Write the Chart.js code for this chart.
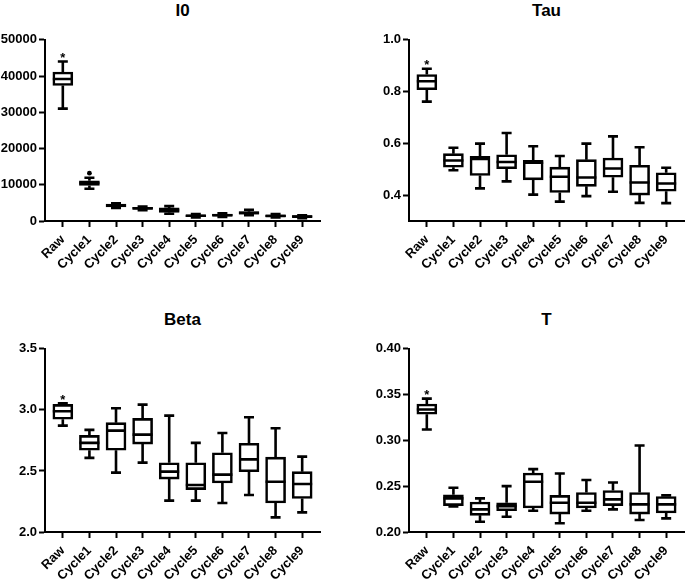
<!DOCTYPE html>
<html>
<head>
<meta charset="utf-8">
<script src="https://cdn.jsdelivr.net/npm/chart.js@4"></script>
<style>
  html, body { margin: 0; padding: 0; background: #fff; overflow: hidden; }
  body { width: 685px; height: 584px; position: relative; font-family: "Liberation Sans", Arial, sans-serif; }
  .title { position: absolute; font-weight: bold; font-size: 17px; line-height: 17px; text-align: center; color: #000; }
  canvas { position: absolute; }
</style>
</head>
<body>
<div class="title" style="left:45px;top:2px;width:275px">I0</div>
<div class="title" style="left:409px;top:2px;width:275px">Tau</div>
<div class="title" style="left:45px;top:311px;width:275px">Beta</div>
<div class="title" style="left:409px;top:311px;width:275px">T</div>
<canvas id="cI0" width="330" height="243" style="left:0;top:30px"></canvas>
<canvas id="cTau" width="321" height="243" style="left:364px;top:30px"></canvas>
<canvas id="cBeta" width="330" height="245" style="left:0;top:339px"></canvas>
<canvas id="cT" width="321" height="245" style="left:364px;top:339px"></canvas>
<script>
const groups = ["Raw", "Cycle1", "Cycle2", "Cycle3", "Cycle4", "Cycle5", "Cycle6", "Cycle7", "Cycle8", "Cycle9"];

// I0
const i0Min = [31000, 8900, 3600, 3000, 2000, 1000, 1100, 1600, 1000, 800];
const i0Q1  = [37400, 9800, 3900, 3200, 2400, 1200, 1300, 1900, 1200, 1000];
const i0Med = [39200, 10500, 4300, 3500, 3000, 1450, 1600, 2200, 1400, 1200];
const i0Q3  = [41100, 11100, 4700, 3800, 3600, 1700, 1900, 2600, 1700, 1500];
const i0Max = [44000, 11950, 4900, 4000, 4100, 1900, 2100, 3100, 1900, 1600];
const i0Dots = [[1, 13200]];
const i0Ticks = [0, 10000, 20000, 30000, 40000, 50000];

// Tau
const tauMin = [0.761, 0.496, 0.426, 0.453, 0.402, 0.375, 0.396, 0.413, 0.370, 0.369];
const tauQ1  = [0.807, 0.508, 0.476, 0.502, 0.459, 0.410, 0.434, 0.469, 0.400, 0.415];
const tauMed = [0.840, 0.534, 0.540, 0.528, 0.525, 0.471, 0.468, 0.503, 0.449, 0.445];
const tauQ3  = [0.866, 0.560, 0.550, 0.556, 0.534, 0.508, 0.537, 0.543, 0.515, 0.486];
const tauMax = [0.888, 0.583, 0.599, 0.640, 0.589, 0.551, 0.599, 0.627, 0.585, 0.506];
const tauTicks = [0.4, 0.6, 0.8, 1.0];

// Beta
const betaMin = [2.871, 2.607, 2.486, 2.568, 2.257, 2.257, 2.238, 2.303, 2.120, 2.161];
const betaQ1  = [2.924, 2.670, 2.670, 2.720, 2.433, 2.347, 2.402, 2.493, 2.238, 2.274];
const betaMed = [2.989, 2.730, 2.830, 2.797, 2.494, 2.385, 2.470, 2.595, 2.412, 2.393];
const betaQ3  = [3.045, 2.791, 2.895, 2.930, 2.567, 2.567, 2.649, 2.726, 2.613, 2.494];
const betaMax = [3.054, 2.836, 3.013, 3.043, 2.953, 2.730, 2.811, 2.940, 2.849, 2.617];
const betaTicks = [2.0, 2.5, 3.0, 3.5];

// T
const tMin = [0.3119, 0.2280, 0.2112, 0.2167, 0.2232, 0.2095, 0.2232, 0.2247, 0.2131, 0.2149];
const tQ1  = [0.3286, 0.2288, 0.2182, 0.2233, 0.2262, 0.2196, 0.2262, 0.2288, 0.2196, 0.2207];
const tMed = [0.3337, 0.2367, 0.2247, 0.2283, 0.2548, 0.2319, 0.2319, 0.2356, 0.2302, 0.2302];
const tQ3  = [0.3397, 0.2406, 0.2327, 0.2319, 0.2643, 0.2400, 0.2431, 0.2452, 0.2431, 0.2388];
const tMax = [0.3456, 0.2483, 0.2367, 0.2501, 0.2686, 0.2639, 0.2567, 0.2541, 0.2944, 0.2400];
const tTicks = [0.20, 0.25, 0.30, 0.35, 0.40];

const FONT = { family: "'Liberation Sans', Arial, sans-serif", weight: "bold", size: 13 };
const LINE = 2.6;

// whiskers, medians, the star on Raw and outlier dots
const boxExtras = {
  id: "boxExtras",
  afterDatasetsDraw(chart) {
    const ds = chart.data.datasets[0];
    const meta = chart.getDatasetMeta(0);
    const ys = chart.scales.y;
    const xs = chart.scales.x;
    const ctx = chart.ctx;
    ctx.save();
    ctx.strokeStyle = "#000";
    ctx.fillStyle = "#000";
    ctx.lineWidth = LINE;
    meta.data.forEach((bar, i) => {
      const x = bar.x;
      const half = bar.width / 2;
      const cap = half * 0.5;
      const yMax = ys.getPixelForValue(ds.max[i]);
      const yMin = ys.getPixelForValue(ds.min[i]);
      const yMed = ys.getPixelForValue(ds.med[i]);
      ctx.beginPath();
      ctx.moveTo(x, bar.y); ctx.lineTo(x, yMax);
      ctx.moveTo(x - cap, yMax); ctx.lineTo(x + cap, yMax);
      ctx.moveTo(x, bar.base); ctx.lineTo(x, yMin);
      ctx.moveTo(x - cap, yMin); ctx.lineTo(x + cap, yMin);
      ctx.moveTo(x - half, yMed); ctx.lineTo(x + half, yMed);
      ctx.stroke();
    });
    // significance star above Raw
    ctx.font = "bold 13px 'Liberation Sans', Arial, sans-serif";
    ctx.textAlign = "center";
    ctx.textBaseline = "alphabetic";
    ctx.fillText("*", xs.getPixelForValue(0), ys.getPixelForValue(ds.max[0]) + 0.5);
    (ds.dots || []).forEach(([i, v]) => {
      ctx.beginPath();
      ctx.arc(xs.getPixelForValue(i), ys.getPixelForValue(v), 2.4, 0, Math.PI * 2);
      ctx.fill();
    });
    ctx.restore();
  }
};

function makeBox(id, min, q1, med, q3, max, ticks, fmt, padRight, dots) {
  const ctx = document.getElementById(id).getContext("2d");
  return new Chart(ctx, {
    type: "bar",
    data: {
      datasets: [{
        data: groups.map((g, i) => ({ x: i, y: [q1[i], q3[i]] })),
        backgroundColor: "#fff",
        borderColor: "#000",
        borderWidth: LINE,
        borderSkipped: false,
        barThickness: 20,
        min: min, med: med, max: max, dots: dots
      }]
    },
    options: {
      responsive: false,
      animation: false,
      layout: { padding: { top: 9, right: padRight, left: 0, bottom: 0 } },
      plugins: { legend: { display: false }, tooltip: { enabled: false } },
      scales: {
        x: {
          type: "linear",
          min: -0.67,
          max: 9.67,
          offset: false,
          afterBuildTicks: ax => { ax.ticks = groups.map((g, i) => ({ value: i })); },
          afterFit: ax => { ax.height = 52; },
          ticks: {
            autoSkip: false, minRotation: 45, maxRotation: 45,
            padding: 5, color: "#000", font: FONT,
            callback: v => groups[v]
          },
          grid: { drawOnChartArea: false, offset: false, tickLength: 6, tickWidth: 2, tickColor: "#000" },
          border: { color: "#000", width: 2 }
        },
        y: {
          min: ticks[0] === 0.4 ? 0.3 : ticks[0],
          max: ticks[ticks.length - 1],
          afterBuildTicks: ax => { ax.ticks = ticks.map(v => ({ value: v })); },
          afterFit: ax => { ax.width = 45; },
          ticks: { padding: 2, color: "#000", font: FONT, callback: fmt },
          grid: { drawOnChartArea: false, tickLength: 6, tickWidth: 2, tickColor: "#000" },
          border: { color: "#000", width: 2 }
        }
      }
    },
    plugins: [boxExtras]
  });
}

makeBox("cI0", i0Min, i0Q1, i0Med, i0Q3, i0Max, i0Ticks, v => String(v), 10, i0Dots);
makeBox("cTau", tauMin, tauQ1, tauMed, tauQ3, tauMax, tauTicks, v => v.toFixed(1), 1, []);
makeBox("cBeta", betaMin, betaQ1, betaMed, betaQ3, betaMax, betaTicks, v => v.toFixed(1), 10, []);
makeBox("cT", tMin, tQ1, tMed, tQ3, tMax, tTicks, v => v.toFixed(2), 1, []);
</script>
</body>
</html>
